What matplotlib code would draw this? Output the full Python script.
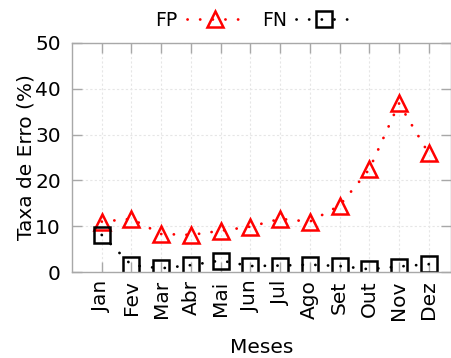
import matplotlib
matplotlib.use("Agg")
import matplotlib.pyplot as plt

meses = ["Jan", "Fev", "Mar", "Abr", "Mai", "Jun", "Jul", "Ago", "Set", "Out", "Nov", "Dez"]
fp = [11.0, 11.6, 8.3, 8.1, 9.0, 9.9, 11.6, 11.0, 14.5, 22.4, 36.8, 25.9]
fn = [8.1, 1.5, 0.8, 1.5, 2.5, 1.3, 1.4, 1.6, 1.3, 0.6, 1.2, 1.7]

plt.rcParams["font.family"] = "DejaVu Sans"

fig = plt.figure(figsize=(4.52, 3.58), dpi=100)
ax = fig.add_axes([72 / 452, 1 - 272 / 358, (451 - 72) / 452, (272 - 43) / 358])

x = list(range(len(meses)))
dots = (0, (0.05, 4.5))
common = dict(linestyle=dots, linewidth=2, dash_capstyle="round",
              markerfacecolor="none", markeredgewidth=1.8)
ax.plot(x, fp, color="red", marker="^", markersize=12, label="FP", **common)
ax.plot(x, fn, color="black", marker="s", markersize=11, label="FN", **common)

ax.set_xlim(-1, 11.75)
ax.set_ylim(0, 50)
ax.set_yticks([0, 10, 20, 30, 40, 50])
ax.set_xticks(x)
ax.set_xticklabels(meses, rotation=90)
ax.tick_params(direction="in", length=7, width=1, color="#a8a8a8",
               top=True, right=True, labelsize=14.5)
ax.tick_params(axis="x", pad=6)
ax.tick_params(axis="y", pad=8)
ax.grid(True, color="#e6e6e6", linestyle=(0, (2, 2)), linewidth=0.8)
for side in ax.spines.values():
    side.set_color("#a8a8a8")
    side.set_linewidth(1)

ax.set_xlabel("Meses", fontsize=14.5, labelpad=13)
ax.set_ylabel("Taxa de Erro (%)", fontsize=14.5, labelpad=0)

ax.legend(loc="lower center", bbox_to_anchor=(0.48, 1.0), ncol=2, frameon=False,
          markerfirst=False, fontsize=13.5, handlelength=3.0, columnspacing=1.0,
          handletextpad=0.5, borderaxespad=0.3)

fig.savefig("out.png", dpi=100)
